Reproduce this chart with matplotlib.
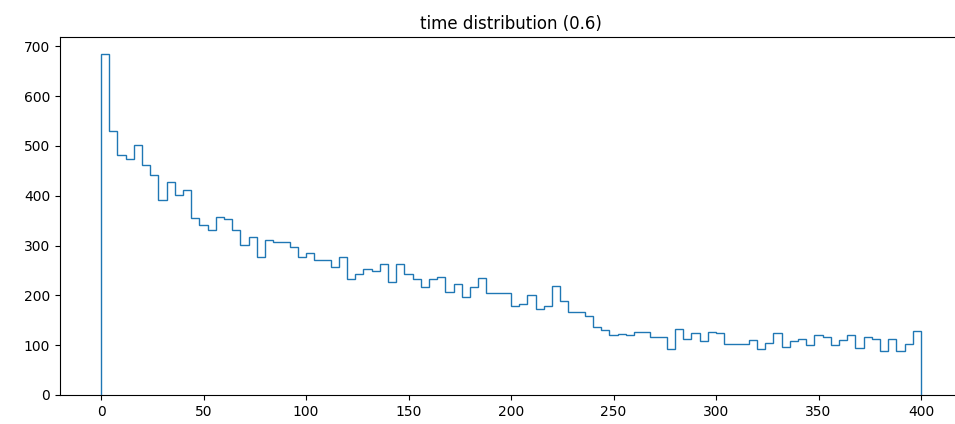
import numpy as np
import matplotlib
matplotlib.use("Agg")
import matplotlib.pyplot as plt

# histogram counts per bin (100 bins of width 4 over 0..400)
counts = [684, 531, 481, 473, 501, 461, 441, 392, 427, 401,
          412, 356, 341, 332, 358, 354, 331, 302, 318, 277,
          311, 308, 308, 297, 277, 286, 272, 272, 257, 277,
          232, 243, 252, 249, 264, 227, 264, 243, 233, 216,
          232, 237, 207, 223, 197, 216, 235, 204, 205, 205,
          178, 182, 200, 172, 179, 219, 189, 167, 167, 158,
          137, 130, 120, 123, 121, 126, 126, 117, 117, 93,
          132, 112, 125, 109, 127, 125, 102, 102, 102, 110,
          92, 105, 125, 97, 109, 112, 100, 120, 116, 100,
          110, 120, 94, 117, 112, 89, 112, 89, 102, 129]
x_min = 0
x_max = 400
title = "time distribution (0.6)"

edges = np.linspace(x_min, x_max, len(counts) + 1)

fig = plt.figure(figsize=(9.55, 4.24), dpi=100)
ax = fig.add_axes([60 / 955, 29 / 424, 902 / 955, (395 - 37.3) / 424])
ax.hist(edges[:-1], bins=edges, weights=counts, histtype="step", color="#1f77b4")
ax.set_title(title)
ax.spines["right"].set_visible(False)
fig.savefig("out.png", dpi=100)
